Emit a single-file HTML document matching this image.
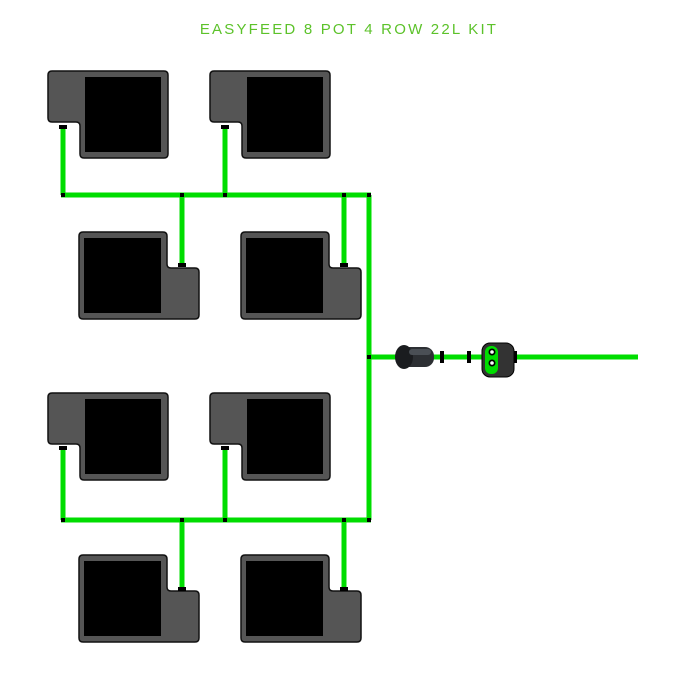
<!DOCTYPE html>
<html><head><meta charset="utf-8"><style>
html,body{margin:0;padding:0;background:#fff;width:700px;height:700px;overflow:hidden}
</style></head><body>
<svg width="700" height="700" viewBox="0 0 700 700" xmlns="http://www.w3.org/2000/svg">
<defs>
<g id="potA">
<path d="M4,0 H116 q4,0 4,4 V83 q0,4 -4,4 H36 q-4,0 -4,-4 V55 q0,-4 -4,-4 H4 q-4,0 -4,-4 V4 q0,-4 4,-4Z" fill="#555" stroke="#111" stroke-width="1.5"/>
<rect x="37" y="6" width="76" height="75" fill="#000"/>
</g>
<g id="potB">
<path d="M4,0 H84 q4,0 4,4 V32 q0,4 4,4 H116 q4,0 4,4 V83 q0,4 -4,4 H4 q-4,0 -4,-4 V4 q0,-4 4,-4Z" fill="#555" stroke="#111" stroke-width="1.5"/>
<rect x="5" y="6" width="77" height="75" fill="#000"/>
</g>
</defs>
<text x="349" y="34" text-anchor="middle" font-family="Liberation Sans, sans-serif" font-size="15" fill="#5cc22a" letter-spacing="2.2">EASYFEED 8 POT 4 ROW 22L KIT</text>

<g stroke="#00dd00" stroke-width="5" fill="none">
<line x1="63" y1="125" x2="63" y2="195"/><line x1="225" y1="125" x2="225" y2="195"/>
<line x1="61" y1="195" x2="371" y2="195"/>
<line x1="182" y1="195" x2="182" y2="267"/><line x1="344" y1="195" x2="344" y2="267"/>
<line x1="369" y1="195" x2="369" y2="520"/>
<line x1="63" y1="448" x2="63" y2="520"/><line x1="225" y1="448" x2="225" y2="520"/>
<line x1="61" y1="520" x2="371" y2="520"/>
<line x1="182" y1="520" x2="182" y2="590"/><line x1="344" y1="520" x2="344" y2="590"/>
<line x1="369" y1="357" x2="638" y2="357"/>
</g>

<use href="#potA" x="48" y="71"/><use href="#potA" x="210" y="71"/>
<use href="#potB" x="79" y="232"/><use href="#potB" x="241" y="232"/>
<use href="#potA" x="48" y="393"/><use href="#potA" x="210" y="393"/>
<use href="#potB" x="79" y="555"/><use href="#potB" x="241" y="555"/>

<g fill="#000">
<rect x="59" y="125" width="8" height="4"/><rect x="221" y="125" width="8" height="4"/>
<rect x="178" y="263" width="8" height="4"/><rect x="340" y="263" width="8" height="4"/>
<rect x="59" y="446" width="8" height="4"/><rect x="221" y="446" width="8" height="4"/>
<rect x="178" y="587" width="8" height="4"/><rect x="340" y="587" width="8" height="4"/>
<rect x="61" y="193" width="4" height="4"/><rect x="180" y="193" width="4" height="4"/><rect x="223" y="193" width="4" height="4"/><rect x="342" y="193" width="4" height="4"/><rect x="367" y="193" width="4" height="4"/>
<rect x="61" y="518" width="4" height="4"/><rect x="180" y="518" width="4" height="4"/><rect x="223" y="518" width="4" height="4"/><rect x="342" y="518" width="4" height="4"/><rect x="367" y="518" width="4" height="4"/>
<rect x="367" y="355" width="4" height="4"/>
<rect x="440" y="351" width="4" height="12"/><rect x="467" y="351" width="4" height="12"/><rect x="511" y="351" width="6" height="12"/>
</g>
<rect x="398" y="347" width="36" height="20" rx="9" fill="#2c2f33"/>
<ellipse cx="404" cy="357" rx="9" ry="12" fill="#1a1c1f"/>
<rect x="409" y="349" width="22" height="6" rx="3" fill="#4a4f55"/>
<rect x="482" y="343" width="32" height="34" rx="8" fill="#333" stroke="#000" stroke-width="1"/>
<rect x="485" y="346" width="13" height="28" rx="6" fill="#00dd00"/>
<circle cx="492" cy="352" r="3.5" fill="#000"/><circle cx="492" cy="352" r="1.8" fill="#fff"/>
<circle cx="492" cy="363" r="3.5" fill="#000"/><circle cx="492" cy="363" r="1.8" fill="#fff"/>
</svg>
</body></html>
